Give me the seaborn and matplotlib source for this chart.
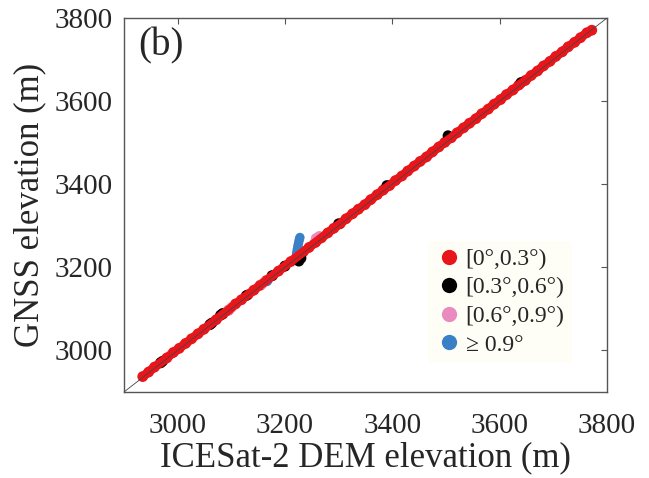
import seaborn as sns
import matplotlib.pyplot as plt
import pandas as pd
from matplotlib.lines import Line2D

# ICESat-2 DEM elevation vs GNSS elevation, grouped by slope class
red_dem = [2935, 2946, 2957, 2969, 2980, 2992, 3003, 3015, 3026, 3038, 3049, 3061,
           3072, 3084, 3095, 3108, 3119, 3131, 3142, 3154, 3165, 3177, 3188, 3200,
           3211, 3222, 3234, 3245, 3257, 3268, 3280, 3291, 3303, 3314, 3326, 3337,
           3349, 3360, 3372, 3383, 3395, 3406, 3418, 3429, 3441, 3452, 3464, 3475,
           3487, 3498, 3510, 3521, 3533, 3544, 3556, 3567, 3579, 3590, 3602, 3613,
           3625, 3636, 3648, 3659, 3671, 3682, 3694, 3705, 3717, 3728, 3740, 3751,
           3763, 3772]
red_gnss = [2937, 2948, 2960, 2971, 2982, 2995, 3005, 3017, 3028, 3040, 3051, 3063,
            3074, 3087, 3097, 3112, 3122, 3134, 3145, 3157, 3168, 3180, 3191, 3203,
            3214, 3225, 3237, 3248, 3260, 3271, 3283, 3294, 3305, 3317, 3329, 3340,
            3351, 3363, 3375, 3386, 3397, 3409, 3420, 3432, 3444, 3455, 3466, 3478,
            3490, 3501, 3512, 3524, 3536, 3547, 3558, 3570, 3581, 3593, 3604, 3616,
            3627, 3639, 3650, 3662, 3673, 3685, 3696, 3708, 3719, 3731, 3742, 3753,
            3765, 3771]

black_dem = [2968, 2972, 3060, 3064, 3080, 3084, 3128, 3176, 3200, 3226, 3230,
             3300, 3390, 3504, 3640]
black_gnss = [2970, 2974, 3062, 3066, 3085, 3089, 3132, 3180, 3203, 3215, 3222,
              3305, 3397, 3517, 3645]

pink_dem = [3093, 3097, 3101, 3158, 3162, 3258, 3264]
pink_gnss = [3095, 3099, 3104, 3160, 3165, 3270, 3275]

blue_dem = [3222, 3223, 3224, 3225, 3226, 3227, 3228, 3167, 3169]
blue_gnss = [3236, 3243, 3250, 3256, 3262, 3268, 3272, 3166, 3170]

classes = ['[0°,0.3°)', '[0.3°,0.6°)', '[0.6°,0.9°)', '≥ 0.9°']
colors = ['#e8161b', '#000000', '#e98bbf', '#3a80c6']

df = pd.concat([
    pd.DataFrame({'dem': red_dem, 'gnss': red_gnss, 'slope': classes[0]}),
    pd.DataFrame({'dem': black_dem, 'gnss': black_gnss, 'slope': classes[1]}),
    pd.DataFrame({'dem': pink_dem, 'gnss': pink_gnss, 'slope': classes[2]}),
    pd.DataFrame({'dem': blue_dem, 'gnss': blue_gnss, 'slope': classes[3]}),
])

sns.set_style('white')
plt.rcParams['font.family'] = ['Liberation Serif', 'DejaVu Serif']

fig = plt.figure(figsize=(6.49, 4.78), dpi=100)
ax = fig.add_axes([0.191, 0.180, 0.744, 0.782])

# dense red track: thick line under the points so the band is continuous
red = df[df['slope'] == classes[0]]
sns.lineplot(data=red, x='dem', y='gnss', color=colors[0], lw=6.5,
             sort=False, estimator=None, ax=ax, legend=False,
             solid_capstyle='round')

sizes = [60, 60, 55, 45]
for cls, col, s in zip(classes, colors, sizes):
    sub = df[df['slope'] == cls]
    sns.scatterplot(data=sub, x='dem', y='gnss', color=col, s=s,
                    edgecolor='none', linewidth=0, ax=ax, legend=False)

# 1:1 line
ax.plot([2900, 3800], [2900, 3800], color='#444444', lw=0.6, zorder=5)

ax.set_xlim(2900, 3800)
ax.set_ylim(2900, 3800)
ax.set_xticks([3000, 3200, 3400, 3600, 3800])
ax.set_yticks([3000, 3200, 3400, 3600, 3800])
ax.tick_params(direction='in', length=4, width=0.8, color='#555555',
               top=True, right=True, labelsize=21)
ax.tick_params(axis='x', pad=15)
ax.tick_params(axis='y', pad=8)
for sp in ax.spines.values():
    sp.set_color('#555555')
    sp.set_linewidth(1.0)

ax.set_xlabel('ICESat-2 DEM elevation (m)', fontsize=25, labelpad=2)
ax.set_ylabel('GNSS elevation (m)', fontsize=25, labelpad=6)
ax.text(0.03, 0.975, '(b)', transform=ax.transAxes, fontsize=28,
        va='top', ha='left')

handles = [Line2D([], [], marker='o', linestyle='none', markersize=11,
                  markerfacecolor=c, markeredgecolor='none') for c in colors]
leg = ax.legend(handles, classes, loc='upper left',
                bbox_to_anchor=(0.605, 0.435), fontsize=17, frameon=True,
                handletextpad=0.1, labelspacing=0.3, borderpad=0.3,
                handlelength=1.2)
leg.get_frame().set_facecolor('#fefef6')
leg.get_frame().set_edgecolor('none')

fig.savefig('out.png', dpi=100)
